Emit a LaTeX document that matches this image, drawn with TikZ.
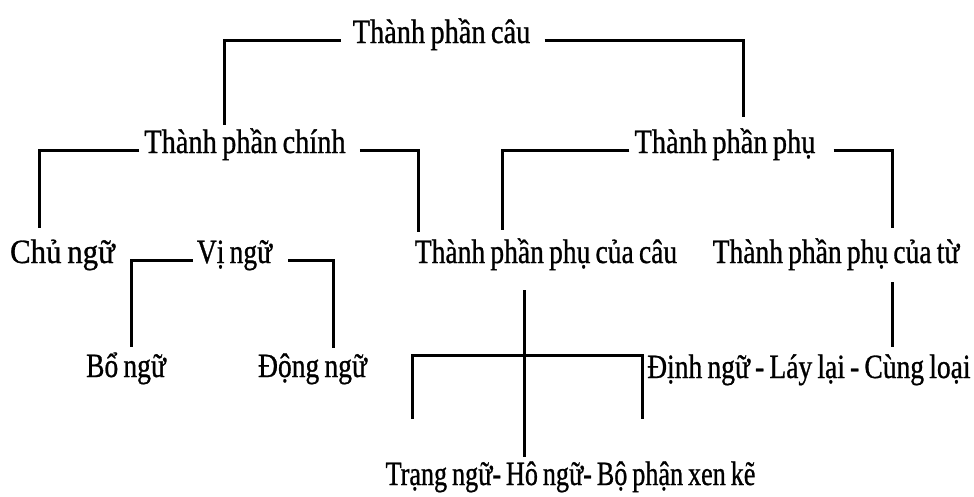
\documentclass[tikz,border=0pt]{standalone}
\usepackage{fontspec}
\setmainfont{Liberation Serif}[FakeStretch=0.81,WordSpace=0.75,FakeBold=0.8]
\begin{document}
\begin{tikzpicture}[x=1pt,y=-1pt,
  lbl/.style={font=\fontsize{34}{38}\selectfont, inner xsep=2pt, inner ysep=2pt, anchor=base},
  conn/.style={line width=3pt}]
\useasboundingbox[fill=white] (0,0) rectangle (974,496);
% labels
\node[lbl] (cau)   at (441.5,43) {\scalebox{1.03}[1]{Thành phần câu}};
\node[lbl] (chinh) at (245,153) {\scalebox{1.03}[1]{Thành phần chính}};
\node[lbl] (phu)   at (725,153) {\scalebox{1.03}[1]{Thành phần phụ}};
\node[lbl] (chu)   at (62.5,263) {\scalebox{1.12}[1]{Chủ ngữ}};
\node[lbl] (vi)    at (234.5,263) {Vị ngữ};
\node[lbl] (pcau)  at (546,263) {Thành phần phụ của câu};
\node[lbl] (ptu)   at (836,263) {Thành phần phụ của từ};
\node[lbl] (bo)    at (126,377) {Bổ ngữ};
\node[lbl] (dong)  at (312.5,377) {Động ngữ};
\node[lbl,anchor=base west] (dinh) at (645,378) {Định ngữ - Láy lại - Cùng loại};
\node[lbl] (trang) at (570.5,485) {\scalebox{0.95}[1]{Trạng ngữ- Hô ngữ- Bộ phận xen kẽ}};
% connector ends
\coordinate (cauL) at (224,125);
\coordinate (cauR) at (743,117);
\coordinate (chL) at (39,228);
\coordinate (chR) at (418,232);
\coordinate (phL) at (502,230);
\coordinate (phR) at (892,228);
\coordinate (viL) at (131,347);
\coordinate (viR) at (333,348);
\coordinate (tuA) at (892,282);
\coordinate (tuB) at (892,347);
\coordinate (pcA) at (524,290);
\coordinate (pcB) at (524,457);
\coordinate (bx1) at (412,419);
\coordinate (bx2) at (412,355);
\coordinate (bx3) at (642,355);
\coordinate (bx4) at (642,419);
% connectors
\draw[conn] ([xshift=-10pt]cau.mid west) -| (cauL);
\draw[conn] ([xshift=12pt]cau.mid east) -| (cauR);
\draw[conn] ([xshift=-3pt]chinh.mid west) -| (chL);
\draw[conn] ([xshift=12pt]chinh.mid east) -| (chR);
\draw[conn] ([xshift=-3pt]phu.mid west) -| (phL);
\draw[conn] ([xshift=16pt]phu.mid east) -| (phR);
\draw[conn] ([xshift=-2pt]vi.mid west) -| (viL);
\draw[conn] ([xshift=14pt]vi.mid east) -| (viR);
\draw[conn] (tuA) -- (tuB);
\draw[conn] (pcA) -- (pcB);
\draw[conn] (bx1) -- (bx2) -- (bx3) -- (bx4);
\end{tikzpicture}
\end{document}
